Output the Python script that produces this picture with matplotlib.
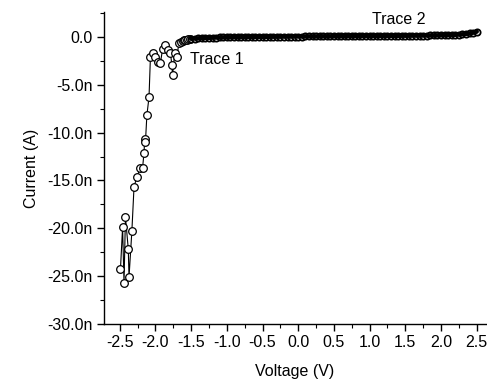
import matplotlib
matplotlib.use("Agg")
import matplotlib.pyplot as plt
from matplotlib.ticker import MultipleLocator, FuncFormatter

plt.rcParams['font.family'] = ['Liberation Sans', 'DejaVu Sans']

# Trace 1: voltage (V) and current (nA)
trace1_v = [-2.49, -2.46, -2.44, -2.42, -2.38, -2.37, -2.33, -2.30, -2.26, -2.21,
            -2.18, -2.16, -2.15, -2.14, -2.12, -2.09, -2.07, -2.04, -2.01, -1.97,
            -1.93, -1.90, -1.86, -1.83, -1.79, -1.77, -1.76, -1.73, -1.70, -1.67,
            -1.64, -1.62, -1.60, -1.58, -1.56, -1.54, -1.52]
trace1_i = [-24.3, -19.9, -25.7, -18.8, -22.2, -25.1, -20.3, -15.7, -14.6, -13.7,
            -13.7, -12.1, -10.7, -11.0, -8.2, -6.3, -2.1, -1.7, -2.1, -2.6,
            -2.7, -1.3, -0.8, -1.4, -1.7, -2.9, -4.0, -1.7, -2.1, -0.6,
            -0.5, -0.4, -0.35, -0.3, -0.28, -0.25, -0.22]

# Trace 2: voltage (V) and current (nA)
trace2_v = [-1.50, -1.45, -1.40, -1.35, -1.30, -1.25, -1.20, -1.15, -1.10, -1.05,
            -1.00, -0.95, -0.90, -0.85, -0.80, -0.75, -0.70, -0.65, -0.60, -0.55,
            -0.50, -0.45, -0.40, -0.35, -0.30, -0.25, -0.20, -0.15, -0.10, -0.05,
            0.00, 0.05, 0.10, 0.15, 0.20, 0.25, 0.30, 0.35, 0.40, 0.45,
            0.50, 0.55, 0.60, 0.65, 0.70, 0.75, 0.80, 0.85, 0.90, 0.95,
            1.00, 1.05, 1.10, 1.15, 1.20, 1.25, 1.30, 1.35, 1.40, 1.45,
            1.50, 1.55, 1.60, 1.65, 1.70, 1.75, 1.80, 1.85, 1.90, 1.95,
            2.00, 2.05, 2.10, 2.15, 2.20, 2.25, 2.30, 2.35, 2.40, 2.45, 2.50]
trace2_i = [-0.20, -0.17, -0.15, -0.13, -0.11, -0.10, -0.08, -0.07, -0.06, -0.05,
            -0.04, -0.04, -0.03, -0.03, -0.02, -0.02, -0.01, -0.01, 0.00, 0.00,
            0.01, 0.01, 0.01, 0.02, 0.02, 0.02, 0.03, 0.03, 0.03, 0.04,
            0.04, 0.04, 0.05, 0.05, 0.05, 0.05, 0.06, 0.06, 0.06, 0.06,
            0.07, 0.07, 0.07, 0.07, 0.08, 0.08, 0.08, 0.08, 0.09, 0.09,
            0.09, 0.09, 0.10, 0.10, 0.10, 0.10, 0.11, 0.11, 0.11, 0.12,
            0.12, 0.12, 0.13, 0.13, 0.13, 0.14, 0.14, 0.15, 0.15, 0.16,
            0.17, 0.18, 0.19, 0.20, 0.22, 0.24, 0.27, 0.31, 0.36, 0.44, 0.55]

xticks = [-2.5, -2.0, -1.5, -1.0, -0.5, 0.0, 0.5, 1.0, 1.5, 2.0, 2.5]
yticks = [0, -5, -10, -15, -20, -25, -30]

fig = plt.figure(figsize=(4.87, 3.81), dpi=100)
ax = fig.add_axes([0.2136, 0.1496, 0.7844, 0.8189])

ax.plot(trace1_v, trace1_i, color='black', lw=0.8, marker='o', ms=5.5,
        mfc='white', mec='black', mew=0.9)
ax.plot(trace2_v, trace2_i, linestyle='none', marker='o', ms=4.5,
        mfc='white', mec='black', mew=1.3)
ax.plot(trace2_v, trace2_i, color='black', lw=3.2, solid_capstyle='round')

ax.set_xlim(-2.72, 2.63)
ax.set_ylim(-30, 2.6)
ax.set_xticks(xticks)
ax.xaxis.set_minor_locator(MultipleLocator(0.25))
ax.set_yticks(yticks)
ax.yaxis.set_minor_locator(MultipleLocator(2.5))
ax.xaxis.set_major_formatter(FuncFormatter(lambda v, p: f"{v:.1f}"))
ax.yaxis.set_major_formatter(FuncFormatter(lambda v, p: "0.0" if abs(v) < 1e-9 else f"{v:.1f}n"))

for s in ['top', 'right']:
    ax.spines[s].set_visible(False)
for s in ['left', 'bottom']:
    ax.spines[s].set_linewidth(1.0)

ax.tick_params(axis='both', which='major', direction='out', length=5, width=1,
               labelsize=11.5, pad=3)
ax.tick_params(axis='both', which='minor', direction='out', length=3, width=0.8)

ax.set_xlabel("Voltage (V)", fontsize=11.5, labelpad=10)
ax.set_ylabel("Current (A)", fontsize=11.5, labelpad=6)

ax.text(-1.52, -2.4, "Trace 1", fontsize=11.5, va='center', ha='left')
ax.text(1.04, 1.8, "Trace 2", fontsize=11.5, va='center', ha='left')

fig.savefig("out.png", dpi=100)
